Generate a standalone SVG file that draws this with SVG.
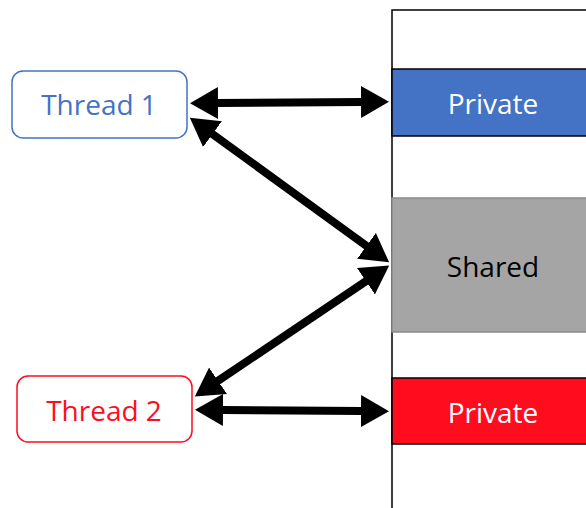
<svg xmlns="http://www.w3.org/2000/svg" width="586" height="508" viewBox="0 0 586 508">
  <style>
    .lbl { font-family: "Open Sans", "Noto Sans", sans-serif; font-size: 28px; text-anchor: middle; dominant-baseline: central; }
    .conn { stroke: #000; stroke-width: 8; fill: none; marker-start: url(#head); marker-end: url(#head); }
    .slot { stroke: #000; stroke-width: 1.5; }
  </style>
  <defs>
    <!-- arrowhead whose base sits on the line end; the tip reaches 28 px further -->
    <marker id="head" markerUnits="userSpaceOnUse" viewBox="0 0 28 32" refX="1" refY="16" markerWidth="28" markerHeight="32" orient="auto-start-reverse">
      <path d="M0,0 L28,16 L0,32 Z" fill="#000"/>
    </marker>
  </defs>

  <!-- memory column -->
  <g id="memory">
    <rect x="392" y="10" width="200" height="500" fill="#fff" class="slot"/>
  </g>
  <g id="private1">
    <rect x="392" y="69" width="200" height="67" fill="#4472c4" class="slot"/>
    <text x="493" y="103" class="lbl" fill="#fff">Private</text>
  </g>
  <g id="shared">
    <rect x="392" y="198" width="200" height="134" fill="#a5a5a5" stroke="#8a8a8a" stroke-width="1.5"/>
    <text x="493" y="266" class="lbl" fill="#000">Shared</text>
  </g>
  <g id="private2">
    <rect x="392" y="378" width="200" height="66" fill="#ff0d1f" class="slot"/>
    <text x="493" y="412" class="lbl" fill="#fff">Private</text>
  </g>

  <!-- threads -->
  <g id="thread1">
    <rect x="12" y="71" width="175" height="67" rx="11" fill="#fff" stroke="#4472c4" stroke-width="1.5"/>
    <text x="99" y="104" class="lbl" fill="#4472c4">Thread 1</text>
  </g>
  <g id="thread2">
    <rect x="17" y="376" width="175" height="66" rx="11" fill="#fff" stroke="#ff0d1f" stroke-width="1.5"/>
    <text x="104" y="410" class="lbl" fill="#ff0d1f">Thread 2</text>
  </g>

  <!-- connectors: segments run between arrowhead bases -->
  <g id="connectors">
    <line x1="217" y1="103" x2="362" y2="102" class="conn"/>
    <line x1="211.7" y1="133.5" x2="367.3" y2="246.5" class="conn"/>
    <line x1="217.2" y1="381.4" x2="366.8" y2="280.6" class="conn"/>
    <line x1="222" y1="410" x2="362" y2="411" class="conn"/>
  </g>
</svg>
